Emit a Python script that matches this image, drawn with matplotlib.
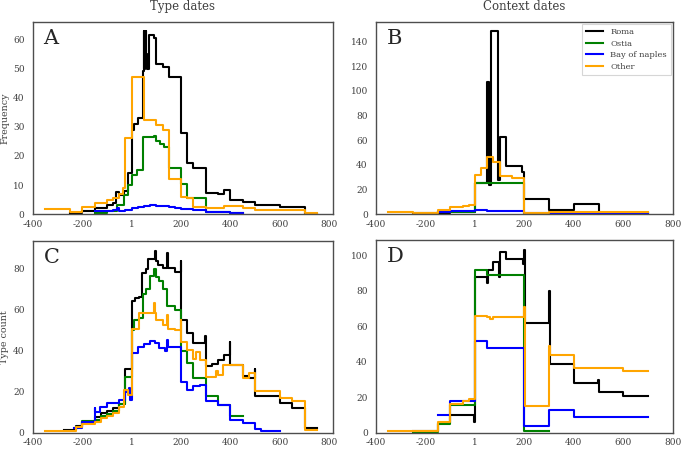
import matplotlib
matplotlib.use('Agg')
import matplotlib.pyplot as plt

plt.rcParams['font.family'] = ['DejaVu Serif']

# ---------------- data (step edges / values) ----------------
series_names = ['Roma', 'Ostia', 'Bay of naples', 'Other']
series_colors = ['black', 'green', 'blue', 'orange']

# Panel A: Type dates, frequency
A_roma_x = [-250, -200, -150, -100, -75, -65, -50, -30, -15, 0, 10, 25, 45, 50, 52, 54, 56, 58, 60, 62,
            70, 90, 100, 125, 150, 200, 225, 250, 300, 350, 375, 400, 450, 500, 600, 700, 750]
A_roma_y = [0.5, 1, 2, 3, 4, 7.5, 6.5, 8, 14, 29, 31, 33, 49, 63, 50, 62, 52, 63, 55, 50,
            61.5, 60.5, 51.5, 50.5, 47, 28, 17.5, 16, 7.3, 7, 8.3, 5, 4.2, 3.3, 2.5, 0]
A_ostia_x = [-150, -100, -60, -30, -15, 0, 20, 45, 90, 100, 115, 130, 150, 200, 225, 300, 400, 450]
A_ostia_y = [0.5, 1.2, 3, 6.5, 10, 13.5, 15.2, 26.6, 27, 25, 24, 23, 16, 10.3, 5.5, 0.8, 0.3]
A_bay_x = [-150, -75, -60, -50, -25, 0, 25, 50, 75, 100, 125, 150, 175, 200, 250, 300, 400, 450]
A_bay_y = [1, 1.5, 2, 1, 1.5, 2, 2.5, 2.8, 3, 2.9, 2.7, 2.5, 2.2, 1.8, 1.3, 0.8, 0.3]
A_other_x = [-350, -250, -200, -150, -100, -75, -50, -35, -25, 0, 50, 100, 125, 150, 200, 225, 250,
             300, 375, 450, 500, 700, 750]
A_other_y = [1.7, 0.8, 2.6, 3.8, 4.9, 5.5, 7, 9, 26, 47, 32.5, 30.5, 29, 12, 6, 5.4, 2.5,
             2.2, 2.8, 2.2, 1.5, 0.3]

# Panel B: Context dates, frequency
B_roma_x = [-250, -150, -100, 0, 50, 57, 65, 95, 100, 125, 190, 200, 300, 400, 500, 700]
B_roma_y = [0.8, 1, 1.5, 25, 107, 24, 149, 28, 63, 39.5, 34, 12.5, 3, 8, 1]
B_ostia_x = [-150, 0, 200, 300]
B_ostia_y = [1.5, 25.5, 0.5]
B_bay_x = [-150, -100, 0, 50, 200, 700]
B_bay_y = [1.8, 2.4, 3, 2.6, 0.6]
B_other_x = [-350, -250, -150, -100, -50, -25, 0, 25, 50, 75, 100, 150, 200, 300, 400, 700]
B_other_y = [1.5, 0.8, 3.6, 6, 6.8, 7.5, 32, 37.5, 46.5, 42, 31, 29.5, 0.8, 1.7, 2]

# Panel C: Type dates, type count
C_roma_x = [-275, -225, -200, -150, -125, -100, -75, -50, -25, 0, 15, 30, 40, 60, 65, 95, 97, 105, 125, 145,
            147, 175, 198, 200, 225, 250, 298, 300, 325, 350, 375, 398, 400, 450, 475, 498, 500, 600, 650, 700, 750]
C_roma_y = [1.5, 3.5, 5.5, 7.5, 9.5, 10.5, 12, 14, 31, 64.5, 66, 66.5, 78, 80, 85, 89, 84, 82, 80.5, 87.6,
            80.5, 78.7, 84, 55, 48.6, 44, 47.5, 32.4, 33.5, 35.8, 38, 44.5, 33.3, 27.6, 26.8, 31, 18, 14.5, 12.1, 2.3]
C_ostia_x = [-225, -200, -150, -125, -100, -75, -50, -25, 0, 10, 30, 45, 60, 75, 90, 100, 110, 125, 145,
             175, 200, 225, 250, 300, 350, 400, 450]
C_ostia_y = [3, 6, 6.5, 8, 9, 10.5, 14, 27.5, 50, 55, 56, 68, 70, 76.6, 80, 76, 74, 70, 62,
             60, 40, 34, 27, 18, 13.7, 8.4]
C_bay_x = [-235, -200, -150, -147, -130, -100, -50, -25, -10, -5, 0, 25, 50, 75, 95, 110, 135, 145, 148, 200,
           225, 250, 275, 300, 350, 400, 450, 500, 525, 600]
C_bay_y = [2.3, 5.5, 12, 10.4, 12.8, 14.5, 16.1, 20, 21.8, 16, 38.9, 42, 43.4, 45, 43.7, 41.3, 40, 45.4, 42, 25,
           21, 23, 23.4, 15.3, 13.7, 6.3, 5, 1.8, 1]
C_other_x = [-350, -225, -200, -150, -125, -100, -75, -50, -30, -15, 0, 30, 90, 93, 100, 125, 143, 147, 175, 198,
             200, 225, 250, 260, 275, 300, 340, 350, 370, 400, 450, 475, 500, 600, 650, 700, 750]
C_other_y = [1, 3, 4.5, 5.3, 7.2, 8, 9.6, 12.8, 21, 18.5, 50.6, 58.5, 63.3, 58.5, 55, 52.5, 57.6, 50.5, 50, 55,
             44.5, 40.5, 36, 39.7, 35.6, 27.5, 30, 28, 33, 33.3, 26.8, 29, 20.5, 16.9, 15.3, 1.5]

# Panel D: Context dates, type count
D_roma_x = [-250, -150, -100, -3, 0, 48, 52, 75, 98, 102, 125, 195, 198, 203, 298, 302, 400, 498, 502, 600, 700]
D_roma_y = [1, 5.5, 10, 6, 88, 84.5, 91.6, 96, 88, 102, 98, 95, 103, 62, 80, 39, 28, 30, 23, 21]
D_ostia_x = [-250, -150, -100, 0, 50, 200, 300]
D_ostia_y = [0.5, 5, 15.7, 92, 89, 1]
D_bay_x = [-150, -100, 0, 50, 200, 300, 400, 700]
D_bay_y = [10, 18, 52, 48, 4, 13, 9]
D_other_x = [-350, -150, -100, -50, -25, 0, 50, 60, 75, 200, 203, 300, 303, 400, 600, 700]
D_other_y = [1, 6, 16.5, 18, 19, 66, 65, 64, 65, 71, 15, 49, 44, 36.3, 35]

xticks = [-400, -200, 1, 200, 400, 600, 800]
xticklabels = ['-400', '-200', '1', '200', '400', '600', '800']
A_yticks = [0, 10, 20, 30, 40, 50, 60]
B_yticks = [0, 20, 40, 60, 80, 100, 120, 140]
C_yticks = [0, 20, 40, 60, 80]
D_yticks = [0, 20, 40, 60, 80, 100]

# ---------------- figure ----------------
fig = plt.figure(figsize=(6.85, 4.49), dpi=100)
axA = fig.add_axes([0.048, 0.523, 0.438, 0.428])
axB = fig.add_axes([0.549, 0.523, 0.433, 0.428])
axC = fig.add_axes([0.048, 0.036, 0.438, 0.427])
axD = fig.add_axes([0.549, 0.036, 0.433, 0.429])

panels = [
    (axA, [(A_roma_x, A_roma_y), (A_ostia_x, A_ostia_y), (A_bay_x, A_bay_y), (A_other_x, A_other_y)],
     A_yticks, 66, (-400, 815), 'A'),
    (axB, [(B_roma_x, B_roma_y), (B_ostia_x, B_ostia_y), (B_bay_x, B_bay_y), (B_other_x, B_other_y)],
     B_yticks, 156, (-400, 800), 'B'),
    (axC, [(C_roma_x, C_roma_y), (C_ostia_x, C_ostia_y), (C_bay_x, C_bay_y), (C_other_x, C_other_y)],
     C_yticks, 93.6, (-400, 815), 'C'),
    (axD, [(D_roma_x, D_roma_y), (D_ostia_x, D_ostia_y), (D_bay_x, D_bay_y), (D_other_x, D_other_y)],
     D_yticks, 108.5, (-400, 800), 'D'),
]

for ax, data, yt, ytop, xl, letter in panels:
    for (x, y), name, col in zip(data, series_names, series_colors):
        ax.step(x, list(y) + [y[-1]], where='post', color=col, lw=1.5, label=name)
    ax.set_xlim(*xl)
    ax.set_ylim(0, ytop)
    ax.set_xticks(xticks)
    ax.set_xticklabels(xticklabels)
    ax.set_yticks(yt)
    ax.tick_params(axis='both', length=0, labelsize=6.5, colors='0.25')
    ax.tick_params(axis='x', pad=4)
    ax.tick_params(axis='y', pad=6)
    for s in ax.spines.values():
        s.set_color('0.3')
        s.set_linewidth(1.0)
    ax.text(0.035, 0.965, letter, transform=ax.transAxes, ha='left', va='top',
            fontsize=15, color='0.15')

axA.set_title('Type dates', fontsize=8.5, color='0.25', pad=9)
axB.set_title('Context dates', fontsize=8.5, color='0.25', pad=9)
axA.set_ylabel('Frequency', fontsize=6.8, color='0.25')
axC.set_ylabel('Type count', fontsize=6.8, color='0.25')
axA.yaxis.set_label_coords(-0.078, 0.5)
axC.yaxis.set_label_coords(-0.078, 0.5)

leg = axB.legend(loc='upper right', fontsize=6, frameon=True, fancybox=False,
                 borderaxespad=0.25, handlelength=2.0, labelspacing=0.45,
                 borderpad=0.45, handletextpad=0.9)
leg.get_frame().set_edgecolor('0.8')
leg.get_frame().set_linewidth(0.8)
for t in leg.get_texts():
    t.set_color('0.25')

fig.savefig('out.png', dpi=100)
